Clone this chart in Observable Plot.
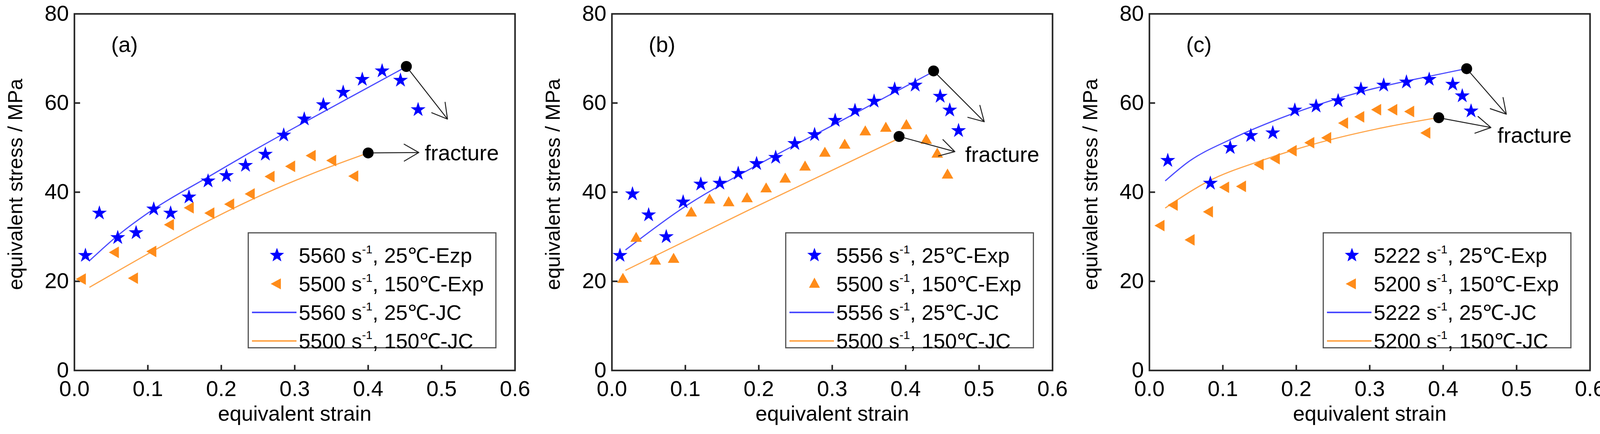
<!DOCTYPE html>
<html><head><meta charset="utf-8">
<script src="https://cdn.jsdelivr.net/npm/d3@7"></script>
<script src="https://cdn.jsdelivr.net/npm/@observablehq/plot@0.6"></script>
<style>
html,body{margin:0;padding:0;background:#fff;overflow:hidden;}
#wrap{position:relative;width:4134px;height:1110px;}
.panel{position:absolute;top:0;width:1378px;height:1110px;}
.panel svg{overflow:visible;display:block;}
.legend{position:absolute;border:3px solid #555;background:#fff;box-sizing:border-box;font-family:"Liberation Sans",Arial,sans-serif;font-size:54px;}
.row{position:absolute;left:0;height:76px;width:100%;}
.row span{position:absolute;left:128px;top:0;white-space:nowrap;line-height:76px;}
.row sup{font-size:30px;vertical-align:0;position:relative;top:-24px;}
.row svg{position:absolute;left:0;top:0;}
</style></head><body><div id="wrap"></div>
<script>
// ---- data ----
const panelLabels = ["(a)", "(b)", "(c)"];
const xTicks = [0, 0.1, 0.2, 0.3, 0.4, 0.5, 0.6];
const yTicks = [0, 20, 40, 60, 80];

const aBlueExp = [[0.015,25.8],[0.034,35.3],[0.059,29.8],[0.084,30.9],[0.108,36.2],[0.131,35.3],[0.156,38.9],[0.182,42.5],[0.207,43.7],[0.233,46.0],[0.26,48.5],[0.285,52.8],[0.313,56.4],[0.339,59.6],[0.366,62.4],[0.392,65.3],[0.419,67.2],[0.444,65.1],[0.468,58.5]];
const aOrangeExp = [[0.011,20.5],[0.056,26.5],[0.082,20.7],[0.107,26.7],[0.131,32.7],[0.158,36.5],[0.186,35.3],[0.213,37.3],[0.241,39.6],[0.268,43.5],[0.296,45.8],[0.324,48.2],[0.352,47.1],[0.382,43.6]];
const aBlueJC = [[0.021,24.7],[0.06,30.4],[0.108,36.2],[0.182,43.4],[0.25,49.9],[0.32,56.3],[0.39,62.6],[0.448,67.8]];
const aOrangeJC = [[0.021,18.7],[0.107,26.8],[0.17,32.5],[0.241,38.3],[0.32,43.9],[0.4,48.8]];
const aFracture = [[0.452,68.2,0.508,56.4],[0.400,48.8,0.469,48.9]];

const bBlueExp = [[0.011,25.8],[0.028,39.6],[0.05,34.9],[0.074,30.0],[0.097,37.8],[0.121,41.8],[0.147,42.0],[0.172,44.2],[0.197,46.4],[0.223,47.8],[0.249,50.9],[0.276,52.9],[0.304,56.1],[0.331,58.3],[0.357,60.4],[0.385,63.1],[0.413,64.0],[0.447,61.5],[0.46,58.4],[0.472,53.8]];
const bOrangeExp = [[0.015,20.4],[0.033,29.6],[0.059,24.5],[0.084,24.9],[0.108,35.3],[0.133,38.2],[0.159,37.6],[0.184,38.5],[0.21,40.7],[0.236,42.9],[0.263,45.6],[0.29,48.7],[0.317,50.5],[0.345,53.5],[0.373,54.3],[0.401,54.9],[0.428,51.6],[0.443,48.5],[0.457,43.8]];
const bBlueJC = [[0.019,27.1],[0.097,36.5],[0.197,46.0],[0.304,55.3],[0.436,66.9]];
const bOrangeJC = [[0.019,22.5],[0.184,35.8],[0.39,52.0]];
const bFracture = [[0.438,67.2,0.507,55.8],[0.391,52.5,0.467,49.1]];

const cBlueExp = [[0.025,47.1],[0.083,42.0],[0.11,50.0],[0.138,52.7],[0.168,53.3],[0.198,58.4],[0.227,59.3],[0.257,60.5],[0.288,63.1],[0.319,64.0],[0.35,64.7],[0.381,65.3],[0.413,64.2],[0.426,61.6],[0.438,58.2]];
const cOrangeExp = [[0.016,32.5],[0.034,37.1],[0.057,29.3],[0.082,35.6],[0.104,41.1],[0.127,41.3],[0.151,46.2],[0.173,47.5],[0.196,49.3],[0.22,51.1],[0.243,52.2],[0.266,55.5],[0.288,56.9],[0.311,58.5],[0.333,58.5],[0.356,58.1],[0.378,53.3]];
const cBlueJC = [[0.022,42.6],[0.053,46.8],[0.11,51.8],[0.198,57.8],[0.288,62.5],[0.381,66.0],[0.428,67.6]];
const cOrangeJC = [[0.022,36.5],[0.082,42.6],[0.151,47.0],[0.22,50.6],[0.31,54.2],[0.392,56.7]];
const cFracture = [[0.432,67.7,0.486,57.5],[0.394,56.7,0.465,54.5]];

const legendA = [["5560","25℃-Ezp"],["5500","150℃-Exp"],["5560","25℃-JC"],["5500","150℃-JC"]];
const legendB = [["5556","25℃-Exp"],["5500","150℃-Exp"],["5556","25℃-JC"],["5500","150℃-JC"]];
const legendC = [["5222","25℃-Exp"],["5200","150℃-Exp"],["5222","25℃-JC"],["5200","150℃-JC"]];

const BLUE = "#0000ff", ORANGE = "#ff8c1a", BLUEL = "#4a4aff", ORANGEL = "#ffa54a";
const FONT = '"Liberation Sans",Arial,sans-serif';

const panels = [
  {label: panelLabels[0], be: aBlueExp, oe: aOrangeExp, bj: aBlueJC, oj: aOrangeJC, fr: aFracture, tri: -90, leg: legendA, fx: 0.477, fy: 48.7},
  {label: panelLabels[1], be: bBlueExp, oe: bOrangeExp, bj: bBlueJC, oj: bOrangeJC, fr: bFracture, tri: 0, leg: legendB, fx: 0.481, fy: 48.4},
  {label: panelLabels[2], be: cBlueExp, oe: cOrangeExp, bj: cBlueJC, oj: cOrangeJC, fr: cFracture, tri: -90, leg: legendC, fx: 0.474, fy: 52.7}
];

const W = 1378, H = 1110, ML = 190, MR = 60, MT = 35, MB = 163;
const wrap = document.getElementById("wrap");

panels.forEach((p, idx) => {
  const div = document.createElement("div");
  div.className = "panel";
  div.style.left = (idx * 1376) + "px";
  const plot = Plot.plot({
    width: W, height: H, marginLeft: ML, marginRight: MR, marginTop: MT, marginBottom: MB,
    style: {fontFamily: FONT, fontSize: "56px", color: "#000", background: "#fff", overflow: "visible"},
    x: {domain: [0, 0.6]},
    y: {domain: [0, 80]},
    marks: [
      Plot.ruleX(xTicks.slice(1, -1), {y1: 0, y2: 1.2, stroke: "#222", strokeWidth: 4}),
      Plot.ruleY(yTicks.slice(1, -1), {x1: 0, x2: 0.008, stroke: "#222", strokeWidth: 4}),
      Plot.axisX({ticks: xTicks, tickSize: 0, tickPadding: 26, tickFormat: d3.format(".1f"), label: null, fontSize: 56}),
      Plot.axisY({ticks: yTicks, tickSize: 0, tickPadding: 14, label: null, fontSize: 56}),
      Plot.text(["equivalent strain"], {frameAnchor: "bottom", dy: 128, fontSize: 54}),
      Plot.text(["equivalent stress / MPa"], {frameAnchor: "left", textAnchor: "middle", dx: -150, dy: -20, rotate: -90, fontSize: 52}),
      Plot.line(p.bj, {x: d => d[0], y: d => d[1], stroke: BLUEL, strokeWidth: 3, curve: "monotone-x"}),
      Plot.line(p.oj, {x: d => d[0], y: d => d[1], stroke: ORANGEL, strokeWidth: 3, curve: "monotone-x"}),
      Plot.dot(p.be, {x: d => d[0], y: d => d[1], symbol: "star", fill: BLUE, r: 12}),
      Plot.dot(p.oe, {x: d => d[0], y: d => d[1], symbol: "triangle", fill: ORANGE, r: 11, rotate: p.tri}),
      Plot.arrow(p.fr, {x1: d => d[0], y1: d => d[1], x2: d => d[2], y2: d => d[3], stroke: "#222", strokeWidth: 2.5, headLength: 26, insetStart: 14}),
      Plot.dot(p.fr, {x: d => d[0], y: d => d[1], fill: "#000", r: 14}),
      Plot.text([p.label], {x: 0.05, y: 73, textAnchor: "start", fontSize: 56}),
      Plot.text(["fracture"], {x: p.fx, y: p.fy, textAnchor: "start", fontSize: 56}),
      Plot.frame({stroke: "#222", strokeWidth: 4})
    ]
  });
  div.appendChild(plot);
  const xs = d3.scaleLinear([0, 0.6], [ML, W - MR]);
  const ys = d3.scaleLinear([0, 80], [H - MB, MT]);
  const lg = document.createElement("div");
  lg.className = "legend";
  const left = xs(0.236), right = xs(0.575), top = ys(31), bottom = ys(4.9);
  Object.assign(lg.style, {left: left + "px", top: top + "px", width: (right - left) + "px", height: (bottom - top) + "px"});
  p.leg.forEach((l, i) => {
    const row = document.createElement("div");
    row.className = "row";
    row.style.top = (18 + i * 73) + "px";
    let sym;
    if (i === 0) sym = `<polygon transform="translate(72,38) scale(1.6)" fill="${BLUE}" points="${d3.range(10).map(k=>{const a=-Math.PI/2+k*Math.PI/5, r=k%2?5:12;return (r*Math.cos(a)).toFixed(2)+","+(r*Math.sin(a)).toFixed(2);}).join(" ")}"/>`;
    else if (i === 1) sym = `<polygon transform="translate(72,38) rotate(${p.tri})" fill="${ORANGE}" points="0,-16 14,10 -14,10"/>`;
    else sym = `<line x1="8" x2="122" y1="38" y2="38" stroke="${i === 2 ? BLUEL : ORANGEL}" stroke-width="4"/>`;
    row.innerHTML = `<svg width="130" height="76">${sym}</svg><span>${l[0]} s<sup>-1</sup>, ${l[1]}</span>`;
    lg.appendChild(row);
  });
  div.appendChild(lg);
  wrap.appendChild(div);
});
</script></body></html>
